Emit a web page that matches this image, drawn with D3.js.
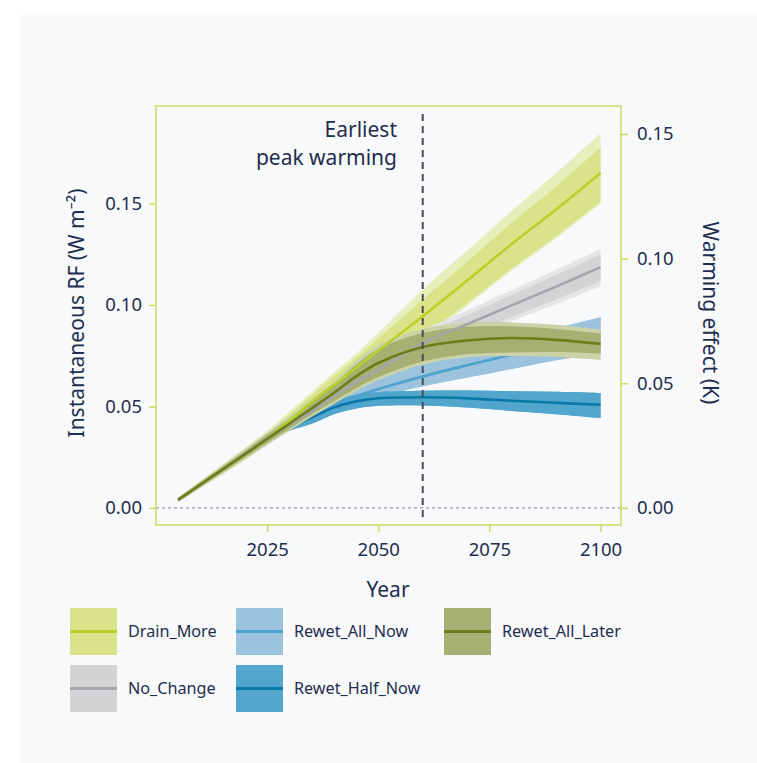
<!DOCTYPE html>
<meta charset="utf-8">
<style>

body {
  margin: 0;
  background: #fff;
}

text {
  font-family: "Noto Sans", "Open Sans", sans-serif;
  fill: #1f2d4e;
}

.axis path.domain {
  display: none;
}

.axis line {
  stroke: #cadd63;
  stroke-width: 1.5px;
}

.axis text {
  font-size: 18.5px;
}

</style>
<body>
<script src="https://cdn.jsdelivr.net/npm/d3@7"></script>
<script>

var w = 757,
    h = 763;

var years = [2005, 2015, 2025, 2030, 2035, 2040, 2045, 2050, 2060, 2070, 2080, 2090, 2100];

var drainMean  = [.004, .019, .0345, .043, .052, .0605, .069, .0775, .0944, .112, .130, .147, .165],
    drainInHi  = [.0045, .021, .037, .046, .0555, .065, .074, .0835, .1026, .1213, .1404, .1584, .1775],
    drainOutHi = [.005, .0215, .038, .0475, .057, .0668, .076, .0862, .1076, .1268, .1464, .165, .1845],
    drainInLo  = [.0035, .017, .032, .040, .048, .056, .064, .072, .0845, .1011, .118, .134, .151],
    drainOutLo = [.003, .0165, .031, .039, .047, .055, .063, .0705, .083, .0996, .1168, .1329, .150];

var noMean  = [.004, .019, .0345, .041, .0475, .055, .062, .068, .0813, .0905, .0998, .109, .1186],
    noInHi  = [.0047, .020, .0358, .0428, .0495, .0575, .065, .0713, .0853, .0951, .1049, .1147, .1248],
    noOutHi = [.005, .0205, .0365, .0436, .0505, .0587, .0661, .0725, .0873, .0973, .1073, .1173, .1276],
    noInLo  = [.0033, .018, .0332, .0393, .0455, .0526, .059, .0646, .0768, .0854, .0941, .1027, .1117],
    noOutLo = [.003, .0175, .0325, .0385, .0445, .0515, .058, .0634, .0753, .0836, .0921, .1004, .1092];

var allNowMean = [.004, .019, .0335, .0405, .0455, .0505, .055, .0586, .0648, .0703, .0755, .080, .0845],
    allNowHi   = [.0048, .0202, .0352, .0428, .0485, .054, .0595, .0638, .0715, .0775, .0832, .0885, .0939],
    allNowLo   = [.0032, .0178, .0318, .0382, .0425, .047, .051, .0545, .0599, .0642, .0685, .0728, .076];

var halfNowMean = [.004, .019, .0335, .040, .0445, .0495, .0525, .054, .0545, .054, .0528, .0518, .0508],
    halfNowHi   = [.0048, .0202, .035, .042, .047, .0525, .0558, .057, .0577, .0578, .0575, .0572, .0566],
    halfNowLo   = [.0032, .0178, .032, .038, .0415, .0462, .049, .0503, .0505, .0495, .0478, .0462, .0443];

var laterMean  = [.004, .019, .034, .0415, .049, .0566, .0648, .0714, .0793, .0825, .0837, .0828, .0808],
    laterInHi  = [.0048, .0203, .036, .044, .052, .0605, .0705, .0783, .0862, .0893, .0895, .0882, .0859],
    laterOutHi = [.0052, .021, .037, .0452, .0535, .0622, .0725, .0802, .0882, .0912, .0914, .0902, .0878],
    laterInLo  = [.0033, .0177, .032, .039, .046, .0525, .059, .0645, .0722, .0757, .0766, .0768, .076],
    laterOutLo = [.003, .017, .031, .038, .0448, .0512, .0575, .063, .0706, .0742, .0748, .0744, .073];

var rfTicks = [0, 0.05, 0.10, 0.15],
    warmTicks = [0, 0.05, 0.10, 0.15],
    yearTicks = [2025, 2050, 2075, 2100],
    peakYear = 2060;

var series = [
  {name: "Drain_More", mean: drainMean, inLo: drainInLo, inHi: drainInHi, outLo: drainOutLo, outHi: drainOutHi,
   line: "#b8d02a", band: "#d9e48a", outer: "#e6eebb"},
  {name: "No_Change", mean: noMean, inLo: noInLo, inHi: noInHi, outLo: noOutLo, outHi: noOutHi,
   line: "#a5a6a9", band: "#d3d4d6", outer: "#e4e5e7"},
  {name: "Rewet_All_Now", mean: allNowMean, inLo: allNowLo, inHi: allNowHi, outLo: allNowLo, outHi: allNowHi,
   line: "#4fa2cf", band: "#9bc3dd", outer: "#9bc3dd"},
  {name: "Rewet_Half_Now", mean: halfNowMean, inLo: halfNowLo, inHi: halfNowHi, outLo: halfNowLo, outHi: halfNowHi,
   line: "#0a78a8", band: "#52a6cc", outer: "#52a6cc"},
  {name: "Rewet_All_Later", mean: laterMean, inLo: laterInLo, inHi: laterInHi, outLo: laterOutLo, outHi: laterOutHi,
   line: "#6b7e1c", band: "#a7b072", outer: "#ccd2a7"}
];
var byName = {};
series.forEach(function(s) { byName[s.name] = s; });

var svg = d3.select("body").append("svg")
    .attr("width", w)
    .attr("height", h);

svg.append("rect")
    .attr("x", 20)
    .attr("y", 15)
    .attr("width", w - 20)
    .attr("height", h - 15)
    .attr("fill", "#f8f9fb");

var x = d3.scaleLinear().domain([2000, 2104.6]).range([156, 621]),
    yL = d3.scaleLinear().domain([-0.0084, 0.198]).range([525, 106]),
    yR = d3.scaleLinear().domain([-0.00685, 0.1612]).range([525, 106]);

var curve = d3.curveCatmullRom.alpha(0.5);

var area = function(lo, hi) {
  return d3.area()
      .curve(curve)
      .x(function(d, i) { return x(years[i]); })
      .y0(function(d, i) { return yL(lo[i]); })
      .y1(function(d, i) { return yL(hi[i]); })(years);
};
var line = function(v) {
  return d3.line()
      .curve(curve)
      .x(function(d, i) { return x(years[i]); })
      .y(function(d, i) { return yL(v[i]); })(years);
};

// zero reference
svg.append("line")
    .attr("x1", 156).attr("x2", 621)
    .attr("y1", yL(0)).attr("y2", yL(0))
    .attr("stroke", "#9a9ca3")
    .attr("stroke-width", 1.3)
    .attr("stroke-dasharray", "3,3");

var plot = svg.append("g");

function drawBand(s) {
  plot.append("path").attr("d", area(s.outLo, s.outHi)).attr("fill", s.outer);
  plot.append("path").attr("d", area(s.inLo, s.inHi)).attr("fill", s.band);
}
function drawLine(s) {
  plot.append("path").attr("d", line(s.mean))
      .attr("fill", "none")
      .attr("stroke", s.line)
      .attr("stroke-width", 2.6);
}

["Drain_More", "No_Change", "Rewet_All_Now", "Rewet_Half_Now"].forEach(function(n) { drawBand(byName[n]); });
drawLine(byName["Rewet_All_Now"]);
drawLine(byName["Rewet_Half_Now"]);
drawBand(byName["Rewet_All_Later"]);
["Drain_More", "No_Change", "Rewet_All_Later"].forEach(function(n) { drawLine(byName[n]); });

// peak warming marker
svg.append("line")
    .attr("x1", x(peakYear)).attr("x2", x(peakYear))
    .attr("y1", 114).attr("y2", 522)
    .attr("stroke", "#4a4c52")
    .attr("stroke-width", 2)
    .attr("stroke-dasharray", "7,5");

var note = svg.append("text")
    .attr("text-anchor", "end")
    .attr("font-size", 21);
note.append("tspan").attr("x", 397).attr("y", 137).text("Earliest");
note.append("tspan").attr("x", 397).attr("y", 165).text("peak warming");

// frame
svg.append("rect")
    .attr("x", 156).attr("y", 106)
    .attr("width", 465).attr("height", 419)
    .attr("fill", "none")
    .attr("stroke", "#cadd63")
    .attr("stroke-width", 1.5);

svg.append("g")
    .attr("class", "axis")
    .attr("transform", "translate(156,0)")
    .call(d3.axisLeft(yL).tickValues(rfTicks).tickFormat(d3.format(".2f")).tickSize(7).tickPadding(7));

svg.append("g")
    .attr("class", "axis")
    .attr("transform", "translate(621,0)")
    .call(d3.axisRight(yR).tickValues(warmTicks).tickFormat(d3.format(".2f")).tickSize(7).tickPadding(9));

svg.append("g")
    .attr("class", "axis")
    .attr("transform", "translate(0,525)")
    .call(d3.axisBottom(x).tickValues(yearTicks).tickFormat(d3.format("d")).tickSize(7).tickPadding(11));

svg.append("text")
    .attr("x", 388).attr("y", 597)
    .attr("text-anchor", "middle")
    .attr("font-size", 21)
    .text("Year");

svg.append("text")
    .attr("transform", "translate(84,313)rotate(-90)")
    .attr("text-anchor", "middle")
    .attr("font-size", 21)
    .text("Instantaneous RF (W m\u207B\u00B2)");

svg.append("text")
    .attr("transform", "translate(703,313)rotate(90)")
    .attr("text-anchor", "middle")
    .attr("font-size", 21)
    .text("Warming effect (K)");

// legend
var legendOrder = ["Drain_More", "Rewet_All_Now", "Rewet_All_Later", "No_Change", "Rewet_Half_Now"],
    colX = [70, 236, 444],
    rowY = [608, 665];

var leg = svg.selectAll(".leg")
    .data(legendOrder.map(function(n) { return byName[n]; }))
  .enter().append("g")
    .attr("class", "leg")
    .attr("transform", function(d, i) { return "translate(" + colX[i % 3] + "," + rowY[Math.floor(i / 3)] + ")"; });

leg.append("rect")
    .attr("width", 47)
    .attr("height", 47)
    .attr("fill", function(d) { return d.band; });

leg.append("line")
    .attr("x1", 0).attr("x2", 47)
    .attr("y1", 23.5).attr("y2", 23.5)
    .attr("stroke", function(d) { return d.line; })
    .attr("stroke-width", 3);

leg.append("text")
    .attr("x", 58)
    .attr("y", 29)
    .attr("font-size", 16.2)
    .text(function(d) { return d.name; });

</script>
</body>
